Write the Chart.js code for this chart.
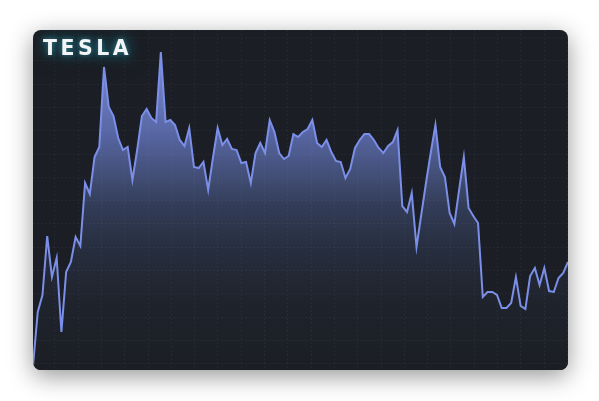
<!DOCTYPE html>
<html>
<head>
<meta charset="utf-8">
<script src="https://cdn.jsdelivr.net/npm/chart.js@4/dist/chart.umd.min.js"></script>
<style>
  html, body { margin: 0; padding: 0; background: #fff; }
  body { width: 599px; height: 401px; position: relative; overflow: hidden; }
  .card {
    position: absolute; left: 33px; top: 30px; width: 535px; height: 340px;
    background: #1b1e24; border-radius: 8px; overflow: hidden;
    box-shadow: 0 6px 24px rgba(0, 0, 0, 0.42);
  }
  .card canvas { position: absolute; left: 0; top: 0; }
  .title {
    position: absolute; left: 10px; top: 6px;
    font-family: "DejaVu Sans", sans-serif; font-weight: bold; font-size: 20.5px;
    letter-spacing: 3.5px; color: #f2f4f6;
    text-shadow: 0 0 5px rgba(60, 160, 180, 0.6), 0 0 14px rgba(30, 120, 140, 0.9), 0 0 22px rgba(30, 110, 130, 0.6);
  }
</style>
</head>
<body>
<div class="card">
  <canvas id="teslaChart" width="535" height="340"></canvas>
  <div class="title">TESLA</div>
</div>
<script>
// share price (one point per week)
const prices = [
  4.7, 68.2, 88.2, 157.6, 109.4, 131.8, 44.7, 115.3, 127.1, 156.5,
  145.9, 220.0, 207.1, 250.6, 262.4, 356.5, 309.4, 298.8, 272.9, 258.8,
  262.4, 223.5, 258.8, 298.8, 307.1, 296.5, 291.8, 374.1, 291.8, 294.1,
  288.2, 270.6, 263.5, 284.7, 238.8, 237.6, 244.7, 211.8, 249.4, 284.7,
  264.7, 271.8, 260.0, 258.8, 243.5, 244.7, 220.0, 255.3, 267.1, 255.3,
  294.1, 280.0, 255.3, 248.2, 251.8, 277.6, 274.1, 280.0, 283.5, 294.1,
  267.1, 262.4, 270.6, 256.5, 245.9, 244.7, 225.9, 236.5, 261.2, 270.6,
  277.6, 277.6, 270.6, 261.2, 255.3, 263.5, 268.2, 282.4, 192.9, 185.9,
  208.2, 144.7, 182.4, 220.0, 255.3, 288.2, 238.8, 227.1, 184.7, 171.8,
  211.8, 250.6, 190.6, 181.2, 172.9, 85.9, 91.8, 91.8, 88.2, 72.9,
  72.9, 78.8, 109.4, 75.3, 71.8, 110.6, 120.0, 100.0, 120.0, 92.9,
  91.8, 108.2, 114.1, 127.1
];
const weeks = prices.map((_, i) => 'W' + (i + 1));
const priceMin = 0;
const priceMax = 400;

// faint dashed grid over the card
const dashedGrid = {
  id: 'dashedGrid',
  afterDatasetsDraw(chart) {
    const { ctx, width, height } = chart;
    const step = 23.3;
    ctx.save();
    ctx.strokeStyle = 'rgba(150, 165, 200, 0.07)';
    ctx.lineWidth = 1;
    ctx.setLineDash([2, 2]);
    ctx.beginPath();
    for (let x = 21.3; x < width; x += step) {
      ctx.moveTo(Math.round(x) + 0.5, 0);
      ctx.lineTo(Math.round(x) + 0.5, height);
    }
    for (let y = 7; y < height; y += step) {
      ctx.moveTo(0, Math.round(y) + 0.5);
      ctx.lineTo(width, Math.round(y) + 0.5);
    }
    ctx.stroke();
    ctx.restore();
  }
};

function areaFill(context) {
  const { ctx, chartArea } = context.chart;
  if (!chartArea) return 'rgba(90,105,170,0.6)';
  const g = ctx.createLinearGradient(0, chartArea.top, 0, chartArea.bottom);
  g.addColorStop(0, '#8193e6');
  g.addColorStop(0.12, '#7283c8');
  g.addColorStop(0.3, '#5867a5');
  g.addColorStop(0.45, '#3e4a6e');
  g.addColorStop(0.52, '#323c57');
  g.addColorStop(0.65, '#262d3d');
  g.addColorStop(0.8, '#1f232c');
  g.addColorStop(1, '#1b1e24');
  return g;
}

new Chart(document.getElementById('teslaChart').getContext('2d'), {
  type: 'line',
  data: {
    labels: weeks,
    datasets: [{
      label: 'TSLA',
      data: prices,
      borderColor: '#7b8fe8',
      borderWidth: 2,
      backgroundColor: areaFill,
      fill: 'origin',
      pointRadius: 0,
      tension: 0
    }]
  },
  options: {
    responsive: false,
    animation: false,
    layout: { padding: 0 },
    plugins: { legend: { display: false }, tooltip: { enabled: false } },
    scales: {
      x: { display: false, offset: false },
      y: { display: false, min: priceMin, max: priceMax }
    }
  },
  plugins: [dashedGrid]
});
</script>
</body>
</html>
